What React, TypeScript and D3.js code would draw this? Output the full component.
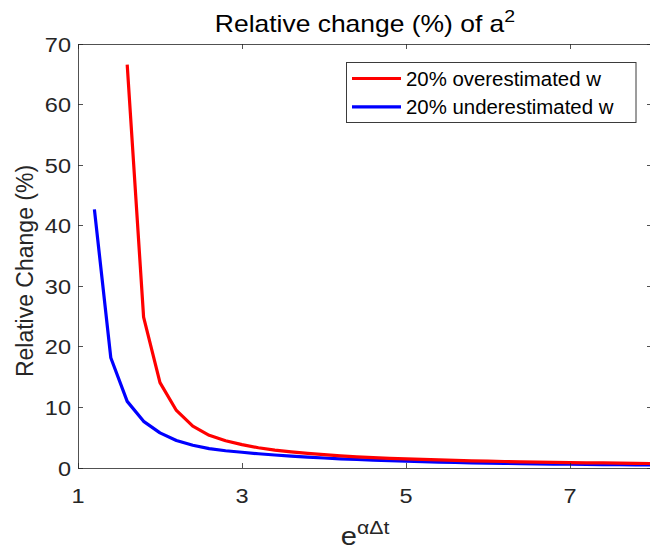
import React from "react";
import * as d3 from "d3";

const xBlue = [1.2,1.4,1.6,1.8,2.0,2.2,2.4,2.6,2.8,3.0,3.2,3.4,3.6,3.8,4.0,4.2,4.4,4.6,4.8,5.0,5.2,5.4,5.6,5.8,6.0,6.2,6.4,6.6,6.8,7.0,7.2,7.4,7.6,7.8,8.0];
const blueValues = [42.7,18.2,11.0,7.7,5.8,4.55,3.75,3.2,2.85,2.6,2.35,2.15,1.95,1.8,1.65,1.5,1.4,1.3,1.2,1.12,1.05,0.98,0.92,0.86,0.8,0.76,0.72,0.68,0.65,0.62,0.59,0.56,0.54,0.52,0.5];
const xRed = [1.6,1.8,2.0,2.2,2.4,2.6,2.8,3.0,3.2,3.4,3.6,3.8,4.0,4.2,4.4,4.6,4.8,5.0,5.2,5.4,5.6,5.8,6.0,6.2,6.4,6.6,6.8,7.0,7.2,7.4,7.6,7.8,8.0];
const redValues = [66.6,24.9,14.1,9.5,6.9,5.4,4.5,3.85,3.35,2.95,2.65,2.4,2.2,2.0,1.85,1.72,1.6,1.5,1.41,1.33,1.26,1.19,1.13,1.07,1.02,0.98,0.94,0.9,0.86,0.83,0.8,0.77,0.74];
const xTicks = [1, 3, 5, 7];
const yTicks = [0, 10, 20, 30, 40, 50, 60, 70];
const seriesNames = ["20% overestimated w", "20% underestimated w"];

const W = 650, H = 551;
const L = 78, R = 652, T = 44, B = 468;
const FONT = "'Liberation Sans', Arial, Helvetica, sans-serif";
const AX = "#262626";
const SX = 1.12;

export default function App() {
  const x = d3.scaleLinear().domain([1, 8]).range([L, R]);
  const y = d3.scaleLinear().domain([0, 70]).range([B, T]);
  const line = d3.line<[number, number]>().x(d => x(d[0])).y(d => y(d[1]));
  const red: [number, number][] = xRed.map((v, i) => [v, redValues[i]]);
  const blue: [number, number][] = xBlue.map((v, i) => [v, blueValues[i]]);
  const tl = 5;
  return (
    <svg width={W} height={H} style={{ position: "absolute", left: 0, top: 0, background: "#fff" }} fontFamily={FONT}>
      <rect x={0} y={0} width={W} height={H} fill="#fff" />
      <defs>
        <clipPath id="clip"><rect x={L} y={T} width={R - L} height={B - T} /></clipPath>
      </defs>
      <path d={line(blue) || ""} fill="none" stroke="#0000ff" strokeWidth={3.2} clipPath="url(#clip)" strokeLinejoin="round" />
      <path d={line(red) || ""} fill="none" stroke="#ff0000" strokeWidth={3.2} clipPath="url(#clip)" strokeLinejoin="round" />
      <rect x={L} y={T} width={R - L} height={B - T} fill="none" stroke={AX} strokeWidth={1} shapeRendering="crispEdges" opacity={0.8} />
      {xTicks.map(t => (
        <g key={"x" + t}>
          <line x1={x(t)} x2={x(t)} y1={B} y2={B - tl} stroke={AX} shapeRendering="crispEdges" opacity={0.8} />
          <line x1={x(t)} x2={x(t)} y1={T} y2={T + tl} stroke={AX} shapeRendering="crispEdges" opacity={0.8} />
          <text transform={`translate(${x(t)}, ${B + 35}) scale(${SX},1)`} textAnchor="middle" fontSize={21} fill={AX}>{t}</text>
        </g>
      ))}
      {yTicks.map(t => (
        <g key={"y" + t}>
          <line x1={L} x2={L + tl} y1={y(t)} y2={y(t)} stroke={AX} shapeRendering="crispEdges" opacity={0.8} />
          <line x1={R} x2={R - tl} y1={y(t)} y2={y(t)} stroke={AX} shapeRendering="crispEdges" opacity={0.8} />
          <text transform={`translate(${L - 7}, ${y(t) + 7.5}) scale(${SX},1)`} textAnchor="end" fontSize={21} fill={AX}>{t}</text>
        </g>
      ))}
      <text transform={`translate(${(L + R) / 2}, 32) scale(1.15,1)`} textAnchor="middle" fontSize={23} fill="#000">
        Relative change (%) of a<tspan dy={-10} fontSize={17}>2</tspan>
      </text>
      <text transform={`translate(${(L + R) / 2}, 545) scale(${SX},1)`} textAnchor="middle" fontSize={26} fill={AX}>
        e<tspan dy={-11} fontSize={19}>αΔt</tspan>
      </text>
      <text transform={`translate(33, ${(T + B) / 2 + 15}) rotate(-90)`} textAnchor="middle" fontSize={23} fill={AX}>
        Relative Change (%)
      </text>
      <g>
        <rect x={346.5} y={62.5} width={289.5} height={60} fill="#fff" stroke={AX} strokeWidth={1} opacity={0.9} />
        {seriesNames.map((n, i) => (
          <g key={n}>
            <line x1={352} x2={401} y1={78.5 + i * 28.3} y2={78.5 + i * 28.3} stroke={i === 0 ? "#ff0000" : "#0000ff"} strokeWidth={3.2} />
            <text transform={`translate(406, ${85.5 + i * 28.3}) scale(1.02,1)`} fontSize={20} fill="#000">{n}</text>
          </g>
        ))}
      </g>
    </svg>
  );
}
